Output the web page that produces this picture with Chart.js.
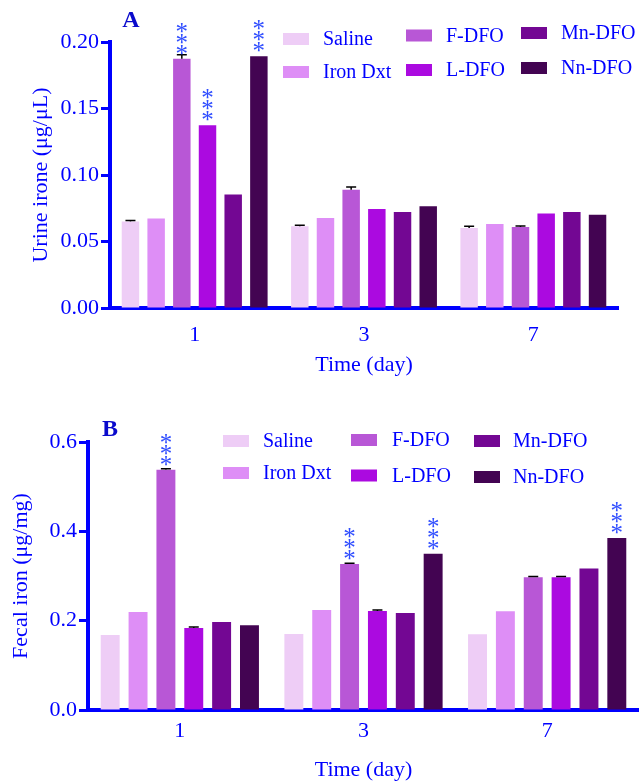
<!DOCTYPE html>
<html>
<head>
<meta charset="utf-8">
<script src="https://cdn.jsdelivr.net/npm/chart.js@4.4.1/dist/chart.umd.min.js"></script>
<style>
  body { margin: 0; background: #fff; }
  canvas { display: block; }
</style>
</head>
<body>
<canvas id="urineChart" width="639" height="392"></canvas>
<canvas id="fecalChart" width="639" height="392"></canvas>
<script>
const days = ['1', '3', '7'];
const groups = ['Saline', 'Iron Dxt', 'F-DFO', 'L-DFO', 'Mn-DFO', 'Nn-DFO'];
const groupColors = ['#eecdf6', '#de8ef6', '#b857d6', '#ab0ae0', '#730793', '#430452'];

// Urine iron (ug/uL), one array per group, values for day 1, 3, 7
const urineSaline = [0.065, 0.0614, 0.0602];
const urineIronDxt = [0.0672, 0.0677, 0.0632];
const urineFDFO = [0.1875, 0.089, 0.0609];
const urineLDFO = [0.1374, 0.0744, 0.071];
const urineMnDFO = [0.0853, 0.0722, 0.0722];
const urineNnDFO = [0.1893, 0.0765, 0.0702];
const urineErr = [[0.0008, 0.0008, 0.0012], [0, 0, 0], [0.003, 0.002, 0.0008], [0, 0, 0], [0, 0, 0], [0, 0, 0]];
const urineStars = [[2, 0], [3, 0], [5, 0]];
const urineTicks = [0, 0.05, 0.10, 0.15, 0.20];

// Fecal iron (ug/mg)
const fecalSaline = [0.168, 0.170, 0.1696];
const fecalIronDxt = [0.2194, 0.224, 0.221];
const fecalFDFO = [0.538, 0.3267, 0.297];
const fecalLDFO = [0.1837, 0.2217, 0.297];
const fecalMnDFO = [0.197, 0.2172, 0.317];
const fecalNnDFO = [0.1897, 0.3497, 0.3848];
const fecalErr = [[0, 0, 0], [0, 0, 0], [0.002, 0.002, 0.002], [0.002, 0.002, 0.002], [0, 0, 0], [0, 0, 0]];
const fecalStars = [[2, 0], [2, 1], [5, 1], [5, 2]];
const fecalTicks = [0, 0.2, 0.4, 0.6];

const BLUE = '#0000ff';
Chart.defaults.font.family = '"Liberation Serif", "Times New Roman", serif';
Chart.defaults.color = BLUE;

// error caps, significance stars, panel letter and the 3x2 legend
const decor = {
    id: 'decor',
    afterDatasetsDraw(chart, args, opts) {
        const ctx = chart.ctx;
        const yScale = chart.scales.y;
        ctx.save();
        chart.data.datasets.forEach((ds, i) => {
            const meta = chart.getDatasetMeta(i);
            opts.errors[i].forEach((e, j) => {
                if (!e) return;
                const bar = meta.data[j];
                const top = yScale.getPixelForValue(ds.data[j] + e);
                ctx.strokeStyle = '#000';
                ctx.lineWidth = 1.5;
                ctx.beginPath();
                ctx.moveTo(bar.x, bar.y);
                ctx.lineTo(bar.x, top);
                ctx.moveTo(bar.x - 5, top);
                ctx.lineTo(bar.x + 5, top);
                ctx.stroke();
            });
        });
        ctx.fillStyle = '#2f4dff';
        ctx.font = '25px "Liberation Serif"';
        ctx.textAlign = 'center';
        ctx.textBaseline = 'alphabetic';
        opts.stars.forEach(([i, j]) => {
            const bar = chart.getDatasetMeta(i).data[j];
            for (let k = 0; k < 3; k++) {
                const cy = bar.y - 10 - k * 11;
                ctx.fillText('*', bar.x, cy + 13);
            }
        });
        ctx.restore();
    },
    afterDraw(chart, args, opts) {
        const ctx = chart.ctx;
        ctx.save();
        ctx.fillStyle = '#0a0acc';
        ctx.font = 'bold 24px "Liberation Serif"';
        ctx.textAlign = 'center';
        ctx.textBaseline = 'middle';
        ctx.fillText(opts.letter, opts.letterX, opts.letterY);

        ctx.font = '20px "Liberation Serif"';
        ctx.textAlign = 'left';
        chart.data.datasets.forEach((ds, i) => {
            const col = Math.floor(i / 2);
            const y = opts.legendY[i];
            ctx.fillStyle = ds.backgroundColor;
            ctx.fillRect(opts.swatchX[col], y - 6, 26, 12);
            ctx.fillStyle = BLUE;
            ctx.fillText(ds.label, opts.textX[col], y + 1);
        });
        ctx.restore();
    }
};

function makeDatasets(seriesList) {
    return seriesList.map((data, i) => ({
        label: groups[i],
        data: data,
        backgroundColor: groupColors[i],
        borderWidth: 0,
        categoryPercentage: 0.91,
        barPercentage: 0.68
    }));
}

function makeChart(id, cfg) {
    return new Chart(document.getElementById(id), {
        type: 'bar',
        data: { labels: days, datasets: makeDatasets(cfg.series) },
        options: {
            responsive: false,
            animation: false,
            layout: { padding: cfg.padding },
            plugins: {
                legend: { display: false },
                tooltip: { enabled: false },
                decor: cfg.decor
            },
            scales: {
                x: {
                    grid: { display: false, drawTicks: false },
                    border: { color: BLUE, width: 4 },
                    ticks: { color: BLUE, font: { size: 22 }, padding: cfg.xTickPad },
                    title: { display: true, text: 'Time (day)', color: BLUE, font: { size: 22 }, padding: { top: 0, bottom: cfg.xTitlePad } },
                    afterFit: s => { s.height = cfg.xHeight; }
                },
                y: {
                    min: 0,
                    max: cfg.ticks[cfg.ticks.length - 1],
                    afterBuildTicks: s => { s.ticks = cfg.ticks.map(v => ({ value: v })); },
                    grid: { drawOnChartArea: false, drawTicks: true, tickLength: 9, tickWidth: 3, tickColor: BLUE },
                    border: { color: BLUE, width: 4 },
                    ticks: { color: BLUE, font: { size: 22 }, padding: 2, callback: v => v.toFixed(cfg.decimals) },
                    title: { display: true, text: cfg.yTitle, color: BLUE, font: { size: 22 }, padding: { top: cfg.yTitlePad, bottom: 0 } },
                    afterFit: s => { s.width = cfg.yWidth; }
                }
            }
        },
        plugins: [decor]
    });
}

makeChart('urineChart', {
    series: [urineSaline, urineIronDxt, urineFDFO, urineLDFO, urineMnDFO, urineNnDFO],
    ticks: urineTicks,
    decimals: 2,
    yTitle: 'Urine irone (μg/μL)',
    padding: { top: 42, right: 21, left: 0, bottom: 0 },
    yWidth: 110,
    yTitlePad: 28,
    xHeight: 84,
    xTickPad: 14,
    xTitlePad: 14,
    decor: {
        errors: urineErr,
        stars: urineStars,
        letter: 'A', letterX: 131, letterY: 21,
        swatchX: [283, 406, 521],
        textX: [323, 446, 561],
        legendY: [39, 72, 35.5, 70, 33, 68]
    }
});

makeChart('fecalChart', {
    series: [fecalSaline, fecalIronDxt, fecalFDFO, fecalLDFO, fecalMnDFO, fecalNnDFO],
    ticks: fecalTicks,
    decimals: 1,
    yTitle: 'Fecal iron (μg/mg)',
    padding: { top: 50, right: 0, left: 0, bottom: 0 },
    yWidth: 88,
    yTitlePad: 8,
    xHeight: 74,
    xTickPad: 8,
    xTitlePad: 1,
    decor: {
        errors: fecalErr,
        stars: fecalStars,
        letter: 'B', letterX: 110, letterY: 38,
        swatchX: [223, 351, 474],
        textX: [263, 392, 513],
        legendY: [49, 81, 48, 83.5, 49, 85]
    }
});
</script>
</body>
</html>
